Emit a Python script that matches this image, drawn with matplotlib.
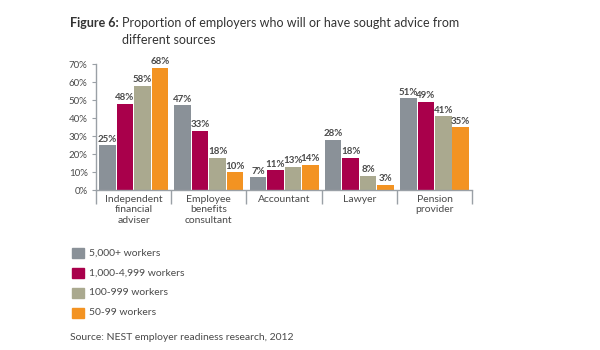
import matplotlib.pyplot as plt
import numpy as np

plt.rcParams['font.family'] = ['Lato', 'DejaVu Sans']

categories = ["Independent\nfinancial\nadviser", "Employee\nbenefits\nconsultant",
              "Accountant", "Lawyer", "Pension\nprovider"]
series_names = ["5,000+ workers", "1,000-4,999 workers", "100-999 workers", "50-99 workers"]
values = [
    [25, 47, 7, 28, 51],
    [48, 33, 11, 18, 49],
    [58, 18, 13, 8, 41],
    [68, 10, 14, 3, 35],
]
colors = ["#8a9198", "#a9004b", "#aaa98f", "#f39322"]
text_col = "#4a4a4a"
axis_col = "#9aa0a6"

fig = plt.figure(figsize=(6, 3.5), dpi=100)
ax = fig.add_axes([0.16, 0.457, 0.627, 0.36])

n = len(categories)
bw = 0.232
x = np.arange(n)
for i, (name, vals, c) in enumerate(zip(series_names, values, colors)):
    pos = x - 1.5 * bw + i * bw
    ax.bar(pos, vals, width=bw - 0.012, color=c, label=name, zorder=2)
    for p, v in zip(pos, vals):
        ax.text(p, v + 0.8, f"{v}%", ha="center", va="bottom", fontsize=7,
                fontweight="bold", color=text_col)

ax.set_xlim(-0.5, n - 0.5)
ax.set_ylim(0, 70)
ax.set_yticks(range(0, 71, 10))
ax.set_yticklabels([f"{t}%" for t in range(0, 71, 10)], fontsize=7, color=text_col)
ax.tick_params(axis="y", length=3, color=axis_col, pad=3)
ax.set_xticks(np.arange(n + 1) - 0.5)
ax.set_xticklabels([])
ax.tick_params(axis="x", length=10, color=axis_col, width=1)
for i, c in enumerate(categories):
    ax.text(i, -2.5, c, ha="center", va="top", fontsize=7.5, color=text_col,
            linespacing=1.25)
for s in ["top", "right"]:
    ax.spines[s].set_visible(False)
for s in ["left", "bottom"]:
    ax.spines[s].set_color(axis_col)
    ax.spines[s].set_linewidth(1)

fig.text(0.117, 0.935, "Figure 6:", fontsize=9, fontweight="bold", color="#333333", va="center")
fig.text(0.204, 0.935, "Proportion of employers who will or have sought advice from",
         fontsize=9, color="#333333", va="center")
fig.text(0.204, 0.885, "different sources", fontsize=9, color="#333333", va="center")

leg_y = [0.277, 0.22, 0.163, 0.106]
for yy, name, c in zip(leg_y, series_names, colors):
    fig.patches.append(plt.Rectangle((0.12, yy - 0.015), 0.02, 0.03,
                                     transform=fig.transFigure, color=c))
    fig.text(0.148, yy, name, fontsize=7.5, color=text_col, va="center")
fig.text(0.117, 0.037, "Source: NEST employer readiness research, 2012",
         fontsize=7.5, color=text_col, va="center")

fig.savefig("out.png", dpi=100, facecolor="white")
